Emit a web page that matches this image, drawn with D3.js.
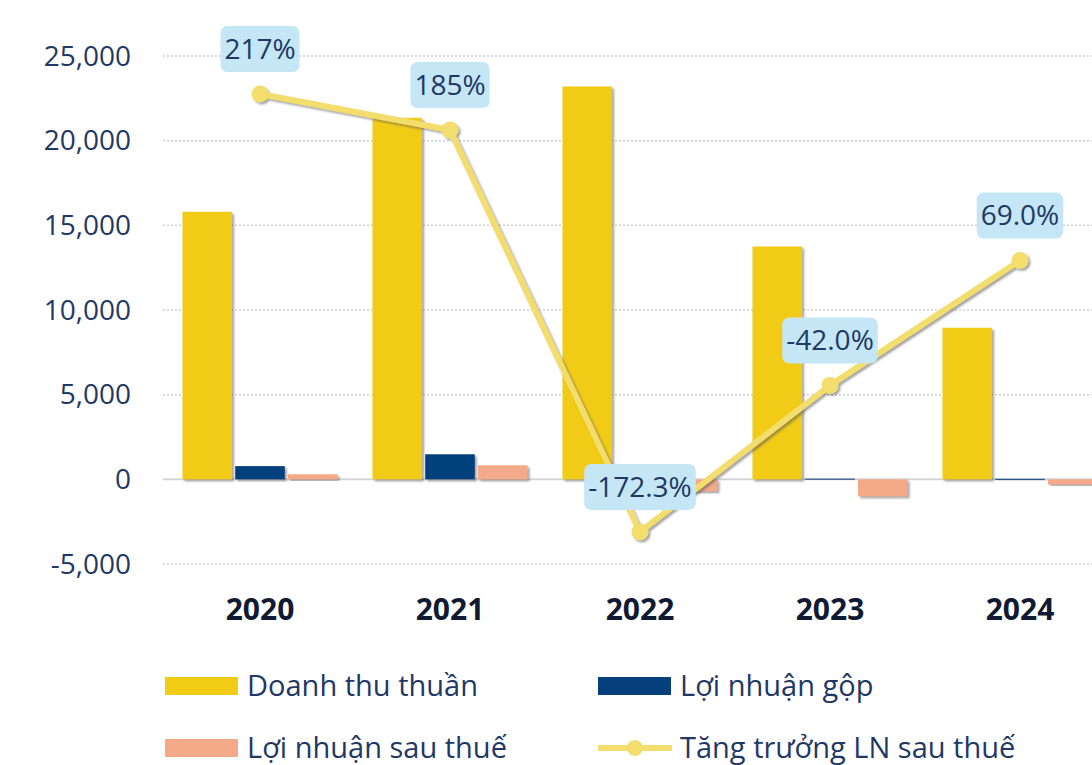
<!DOCTYPE html>
<html>
<head>
<meta charset="utf-8">
<script src="https://d3js.org/d3.v7.min.js"></script>
<style>
  body { margin: 0; background: #fff; font-family: 'Open Sans', 'Noto Sans', sans-serif; }
  svg { display: block; }
</style>
</head>
<body>
<div id="chart"></div>
<script>
// data
var years = ["2020", "2021", "2022", "2023", "2024"];
var doanhThu = [15800, 21350, 23200, 13750, 8950];
var loiNhuanGop = [780, 1480, 150, 40, 30];
var loiNhuanSauThue = [300, 830, -700, -1000, -300];
var tangTruong = [217, 185, -172.3, -42.0, 69.0];
var growthLabels = ["217%", "185%", "-172.3%", "-42.0%", "69.0%"];
var yTicks = [-5000, 0, 5000, 10000, 15000, 20000, 25000];
var seriesNames = ["Doanh thu thuần", "Lợi nhuận gộp", "Lợi nhuận sau thuế", "Tăng trưởng LN sau thuế"];
var colors = ["#f2cb15", "#053f7c", "#f4aa88", "#f3dd6c"];

var width = 1092, height = 765;

var svg = d3.select("#chart").append("svg")
    .attr("width", width)
    .attr("height", height);

var defs = svg.append("defs");
var shadow = defs.append("filter").attr("id", "shadow")
    .attr("x", "-20%").attr("y", "-20%").attr("width", "140%").attr("height", "140%");
shadow.append("feDropShadow")
    .attr("dx", 2).attr("dy", 2).attr("stdDeviation", 1)
    .attr("flood-color", "#555").attr("flood-opacity", 0.55);

var x0 = d3.scaleBand()
    .domain(years)
    .range([165, 1115])
    .paddingInner(0.184)
    .paddingOuter(0.092);

var x1 = d3.scaleBand()
    .domain([0, 1, 2])
    .range([0, x0.bandwidth()])
    .paddingInner(0.06);

var y = d3.scaleLinear()
    .domain([-5000, 25000])
    .range([564, 56]);

// secondary axis for growth %, not shown
var y2 = d3.scaleLinear()
    .domain([-250, 300])
    .range([619.4, 0.6]);

// grid
svg.append("g")
    .selectAll("line")
    .data(yTicks.filter(function (d) { return d !== 0; }))
    .enter().append("line")
    .attr("x1", 163).attr("x2", width)
    .attr("y1", function (d) { return y(d); })
    .attr("y2", function (d) { return y(d); })
    .attr("stroke", "#cfcfcf")
    .attr("stroke-width", 1.5)
    .attr("stroke-dasharray", "2,2");

svg.append("line")
    .attr("x1", 163).attr("x2", width)
    .attr("y1", y(0)).attr("y2", y(0))
    .attr("stroke", "#d6d6d6")
    .attr("stroke-width", 2);

// y tick labels
var fmt = d3.format(",");
svg.append("g")
    .selectAll("text")
    .data(yTicks)
    .enter().append("text")
    .attr("x", 131)
    .attr("y", function (d) { return y(d); })
    .attr("dy", "0.35em")
    .attr("text-anchor", "end")
    .attr("fill", "#1f3864")
    .style("font-size", "28px")
    .text(function (d) { return fmt(d).replace("\u2212", "-"); });

// x labels
svg.append("g")
    .selectAll("text")
    .data(years)
    .enter().append("text")
    .attr("x", function (d) { return x0(d) + x0.bandwidth() / 2; })
    .attr("y", 609)
    .attr("dy", "0.35em")
    .attr("text-anchor", "middle")
    .attr("fill", "#111a33")
    .style("font-size", "30px")
    .style("font-weight", "bold")
    .text(function (d) { return d; });

// bars
var barSeries = [doanhThu, loiNhuanGop, loiNhuanSauThue];
var barData = [];
years.forEach(function (yr, i) {
    barSeries.forEach(function (s, k) {
        barData.push({ year: yr, k: k, value: s[i] });
    });
});

svg.append("g")
    .selectAll("rect")
    .data(barData)
    .enter().append("rect")
    .attr("x", function (d) { return x0(d.year) + x1(d.k); })
    .attr("width", x1.bandwidth())
    .attr("y", function (d) { return y(Math.max(0, d.value)); })
    .attr("height", function (d) { return Math.max(1, Math.abs(y(d.value) - y(0))); })
    .attr("fill", function (d) { return colors[d.k]; })
    .attr("filter", "url(#shadow)");

// growth line
var pts = years.map(function (yr, i) {
    return { year: yr, value: tangTruong[i], label: growthLabels[i] };
});
var cx = function (d) { return x0(d.year) + x0.bandwidth() / 2; };

var lineG = svg.append("g").attr("filter", "url(#shadow)");
lineG.append("path")
    .datum(pts)
    .attr("fill", "none")
    .attr("stroke", colors[3])
    .attr("stroke-width", 6)
    .attr("stroke-linejoin", "round")
    .attr("d", d3.line()
        .x(cx)
        .y(function (d) { return y2(d.value); }));

lineG.selectAll("circle")
    .data(pts)
    .enter().append("circle")
    .attr("cx", cx)
    .attr("cy", function (d) { return y2(d.value); })
    .attr("r", 8.5)
    .attr("fill", colors[3]);

// labels
var lab = svg.append("g")
    .selectAll("g")
    .data(pts)
    .enter().append("g")
    .attr("transform", function (d) {
        return "translate(" + cx(d) + "," + (y2(d.value) - 45) + ")";
    });

lab.append("text")
    .attr("text-anchor", "middle")
    .attr("dy", "0.35em")
    .attr("fill", "#1f3864")
    .style("font-size", "28px")
    .text(function (d) { return d.label; });

lab.each(function () {
    var g = d3.select(this);
    var bb = g.select("text").node().getBBox();
    g.insert("rect", "text")
        .attr("x", bb.x - 4)
        .attr("y", -23)
        .attr("width", bb.width + 8)
        .attr("height", 46)
        .attr("rx", 7)
        .attr("fill", "#c5e6f5");
});

// legend
var legendItems = [
    { name: seriesNames[0], color: colors[0], x: 165, y: 686, type: "rect" },
    { name: seriesNames[1], color: colors[1], x: 598, y: 686, type: "rect" },
    { name: seriesNames[2], color: colors[2], x: 165, y: 748, type: "rect" },
    { name: seriesNames[3], color: colors[3], x: 598, y: 748, type: "line" }
];

var leg = svg.append("g")
    .selectAll("g")
    .data(legendItems)
    .enter().append("g")
    .attr("transform", function (d) { return "translate(" + d.x + "," + d.y + ")"; });

leg.filter(function (d) { return d.type === "rect"; })
    .append("rect")
    .attr("x", 0).attr("y", -9)
    .attr("width", 73).attr("height", 18)
    .attr("fill", function (d) { return d.color; });

var ll = leg.filter(function (d) { return d.type === "line"; });
ll.append("line")
    .attr("x1", 0).attr("x2", 74)
    .attr("y1", 0).attr("y2", 0)
    .attr("stroke", function (d) { return d.color; })
    .attr("stroke-width", 6);
ll.append("circle")
    .attr("cx", 37).attr("cy", 0).attr("r", 8)
    .attr("fill", function (d) { return d.color; });

leg.append("text")
    .attr("x", 82)
    .attr("dy", "0.35em")
    .attr("fill", "#1f3864")
    .style("font-size", "29px")
    .text(function (d) { return d.name; });
</script>
</body>
</html>
